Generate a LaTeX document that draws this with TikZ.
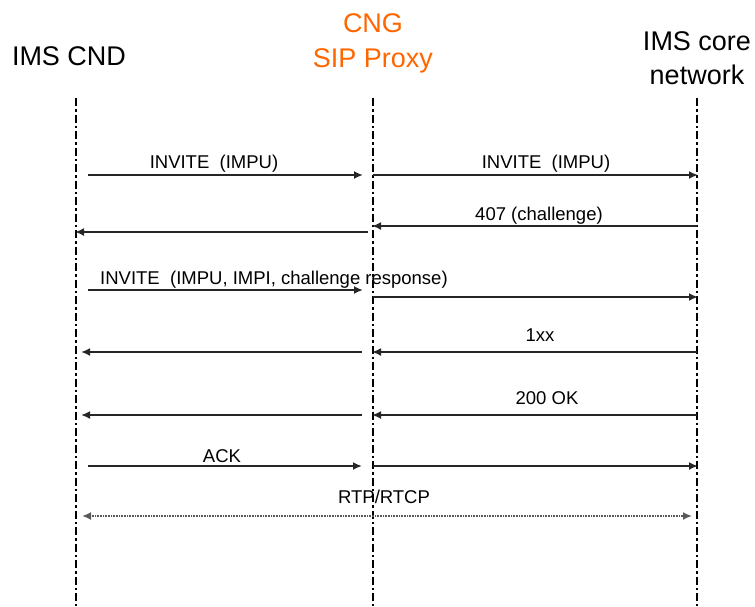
\documentclass[tikz,border=0pt]{standalone}
\usepackage{fontspec}
\setmainfont{Liberation Sans}
\usetikzlibrary{arrows.meta}
\definecolor{cngorange}{RGB}{255,102,0}
\begin{document}
\begin{tikzpicture}[x=1pt,y=-1pt,
  hdr/.style={font=\fontsize{27}{30}\selectfont, inner sep=0pt, anchor=base},
  lbl/.style={font=\fontsize{18.5}{20}\selectfont, inner sep=0pt, anchor=base},
  lifeline/.style={line width=1.8pt, dash pattern=on 8pt off 3pt on 2.5pt off 3pt},
  msg/.style={line width=2.2pt, black!85, -{Latex[length=9pt,width=8pt]}},
  media/.style={line width=2.4pt, black!65, dash pattern=on 1pt off 0.6pt, {Latex[length=9pt,width=8pt]}-{Latex[length=9pt,width=8pt]}}
]
\useasboundingbox (0,0) rectangle (755,606);
% headers
\node[hdr] (hA) at (69,65) {IMS CND};
\node[hdr, text=cngorange] (hB1) at (373,32) {CNG};
\node[hdr, text=cngorange] (hB2) at (373,67) {SIP Proxy};
\node[hdr] (hC1) at (697,50) {IMS core};
\node[hdr] (hC2) at (697,84) {network};
% lifelines
\coordinate (At) at (76,98);  \coordinate (Ab) at (76,606);
\coordinate (Bt) at (373,98); \coordinate (Bb) at (373,606);
\coordinate (Ct) at (697,98); \coordinate (Cb) at (697,606);
\draw[lifeline] (At) -- (Ab);
\draw[lifeline] (Bt) -- (Bb);
\draw[lifeline] (Ct) -- (Cb);
% message endpoints
\coordinate (m1s) at (88,175);  \coordinate (m1e) at (363,175);
\coordinate (m2s) at (373,175); \coordinate (m2e) at (698,175);
\coordinate (m3s) at (697,226); \coordinate (m3e) at (372,226);
\coordinate (m4s) at (368,232); \coordinate (m4e) at (75,232);
\coordinate (m5s) at (88,290);  \coordinate (m5e) at (363,290);
\coordinate (m6s) at (373,297); \coordinate (m6e) at (698,297);
\coordinate (m7s) at (697,352); \coordinate (m7e) at (372,352);
\coordinate (m8s) at (362,352); \coordinate (m8e) at (81,352);
\coordinate (m9s) at (697,415); \coordinate (m9e) at (372,415);
\coordinate (m10s) at (362,415); \coordinate (m10e) at (81,415);
\coordinate (m11s) at (88,466);  \coordinate (m11e) at (362,466);
\coordinate (m12s) at (373,466); \coordinate (m12e) at (698,466);
\coordinate (m13s) at (82,516);  \coordinate (m13e) at (692,516);
% messages
\draw[msg] (m1s) -- (m1e);
\draw[msg] (m2s) -- (m2e);
\draw[msg] (m3s) -- (m3e);
\draw[msg] (m4s) -- (m4e);
\draw[msg] (m5s) -- (m5e);
\draw[msg] (m6s) -- (m6e);
\draw[msg] (m7s) -- (m7e);
\draw[msg] (m8s) -- (m8e);
\draw[msg] (m9s) -- (m9e);
\draw[msg] (m10s) -- (m10e);
\draw[msg] (m11s) -- (m11e);
\draw[msg] (m12s) -- (m12e);
\draw[media] (m13s) -- (m13e);
% labels
\node[lbl] (l1) at (214,168) {INVITE\ \ (IMPU)};
\node[lbl] (l2) at (546,168) {INVITE\ \ (IMPU)};
\node[lbl] (l3) at (539,220) {407 (challenge)};
\node[lbl, anchor=base west] (l5) at (100,284) {INVITE\ \ (IMPU, IMPI, challenge response)};
\node[lbl] (l7) at (540,341) {1xx};
\node[lbl] (l9) at (547,404) {200 OK};
\node[lbl] (l11) at (222,462) {ACK};
\node[lbl] (l13) at (384,503) {RTP/RTCP};
\end{tikzpicture}
\end{document}
